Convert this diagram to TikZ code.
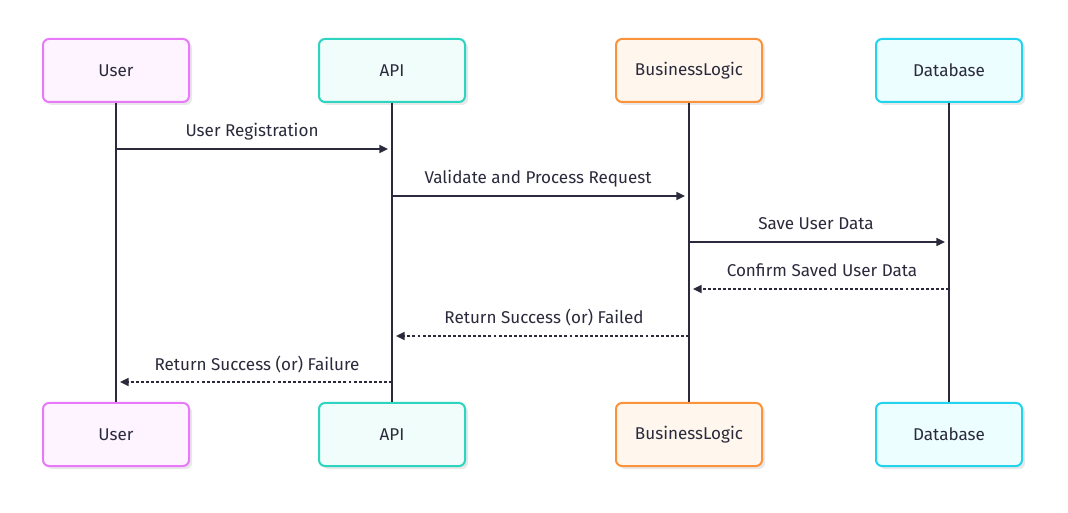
\documentclass[tikz,border=0pt]{standalone}
\usepackage{fontspec}
\setmainfont{Fira Sans}
\usetikzlibrary{arrows.meta}
\definecolor{ink}{HTML}{2A2A3C}
\definecolor{uB}{HTML}{E879F9}\definecolor{uF}{HTML}{FDF4FF}
\definecolor{aB}{HTML}{2DD4BF}\definecolor{aF}{HTML}{F0FDFA}
\definecolor{bB}{HTML}{FB923C}\definecolor{bF}{HTML}{FFF7ED}
\definecolor{dB}{HTML}{22D3EE}\definecolor{dF}{HTML}{ECFEFF}
\definecolor{shd}{HTML}{E8E8E8}
\begin{document}
\begin{tikzpicture}[x=0.75pt,y=-0.75pt,
  actor/.style={draw=#1B,fill=#1F,line width=1.5pt,rounded corners=4.5pt,
    minimum width=109.5pt,minimum height=47.25pt,inner sep=0pt,
    font=\fontsize{12.8}{14}\selectfont,text=ink},
  life/.style={draw=ink,line width=1.5pt},
  msg/.style={draw=ink,line width=1.2pt,-{Triangle[length=6.5pt,width=6pt]}},
  rmsg/.style={msg,dash pattern=on 2.2pt off 1.6pt},
  lbl/.style={font=\fontsize{12.8}{14}\selectfont,text=ink,inner sep=0pt,anchor=base}]
\useasboundingbox[fill=white] (0,0) rectangle (1068,513);
% shadows
\foreach \cx in {116,392,689,949}{
  \fill[shd,rounded corners=4.5pt] (\cx-73+3,39+3) rectangle (\cx+73+3,102+3);
  \fill[shd,rounded corners=4.5pt] (\cx-73+3,403+3) rectangle (\cx+73+3,466+3);
}
\node[actor=u] (ut) at (116,70.5) {User};
\node[actor=a] (at) at (392,70.5) {API};
\node[actor=b] (bt) at (689,70.5) {BusinessLogic};
\node[actor=d] (dt) at (949,70.5) {Database};
\node[actor=u] (ub) at (116,434.5) {User};
\node[actor=a] (ab) at (392,434.5) {API};
\node[actor=b] (bb) at (689,434.5) {BusinessLogic};
\node[actor=d] (db) at (949,434.5) {Database};
\draw[life] (ut) -- (ub);
\draw[life] (at) -- (ab);
\draw[life] (bt) -- (bb);
\draw[life] (dt) -- (db);
% messages
\coordinate (m1s) at (116,149); \coordinate (m1e) at (388,149);
\draw[msg] (m1s) -- (m1e);
\node[lbl] (l1) at (252,137) {User Registration};
\coordinate (m2s) at (392,196); \coordinate (m2e) at (685,196);
\draw[msg] (m2s) -- (m2e);
\node[lbl] (l2) at (538,184) {Validate and Process Request};
\coordinate (m3s) at (689,242); \coordinate (m3e) at (945,242);
\draw[msg] (m3s) -- (m3e);
\node[lbl] (l3) at (816,230) {Save User Data};
\coordinate (m4s) at (949,289); \coordinate (m4e) at (693,289);
\draw[rmsg] (m4s) -- (m4e);
\node[lbl] (l4) at (822,277) {Confirm Saved User Data};
\coordinate (m5s) at (689,336); \coordinate (m5e) at (396,336);
\draw[rmsg] (m5s) -- (m5e);
\node[lbl] (l5) at (544,324) {Return Success (or) Failed};
\coordinate (m6s) at (392,382); \coordinate (m6e) at (120,382);
\draw[rmsg] (m6s) -- (m6e);
\node[lbl] (l6) at (257,371) {Return Success (or) Failure};
\end{tikzpicture}
\end{document}
